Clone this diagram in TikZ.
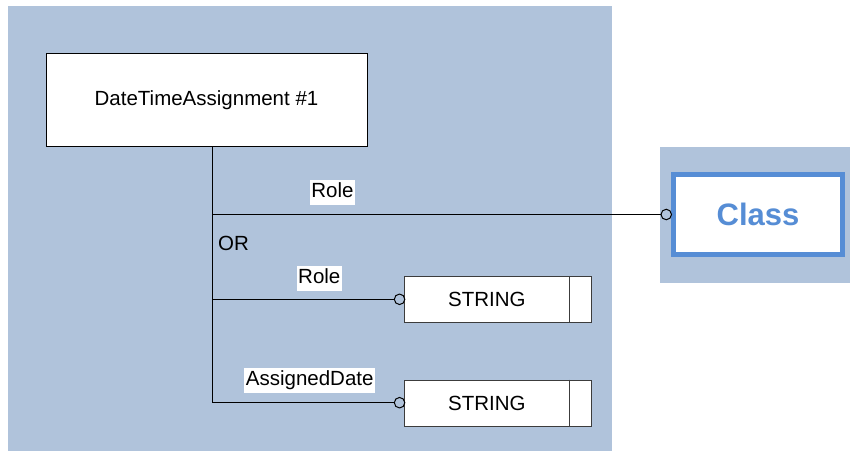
\documentclass[tikz,border=0pt]{standalone}
\usepackage{fontspec}
\setmainfont{Liberation Sans}
\definecolor{panel}{RGB}{176,195,219}
\definecolor{clsblue}{RGB}{86,141,213}
\definecolor{boxline}{RGB}{60,60,60}
\begin{document}
\begin{tikzpicture}[x=1pt,y=-1pt,
  every node/.style={font=\fontsize{20.5}{24}\selectfont},
  entity/.style={draw=black,fill=white,line width=1pt,inner sep=0pt,minimum width=321pt,minimum height=92pt},
  strbox/.style={draw=boxline,fill=white,line width=1pt,inner sep=0pt,minimum width=187pt,minimum height=46pt},
  classbox/.style={draw=clsblue,fill=white,line width=5pt,inner sep=0pt,minimum width=169pt,minimum height=80pt,
    text=clsblue,font=\fontsize{31}{36}\selectfont\bfseries},
  lbl/.style={fill=white,inner xsep=1.5pt,inner ysep=2.5pt,text height=15pt,text depth=5pt},
  conn/.style={draw=black,line width=1pt},
  ring/.style={circle,draw=black,line width=1pt,inner sep=0pt,minimum size=10.5pt,anchor=east}
]
\useasboundingbox (0,0) rectangle (850,452);
\fill[panel] (8,6) rectangle (612,451);
\fill[panel] (660,147) rectangle (850,283);

\node[entity] (dta) at (206.5,100) {DateTimeAssignment \#1};
\node[classbox] (cls) at (758,214.5) {Class};
\node[strbox] (s1) at (498.3,299.7) {};
\node[strbox] (s2) at (498.3,403) {};
\node (t1) at ([xshift=-11.5pt]s1.center) {STRING};
\node (t2) at ([xshift=-11.5pt]s2.center) {STRING};
\draw[boxline,line width=1pt] ([xshift=-23pt]s1.north east) -- ([xshift=-23pt]s1.south east);
\draw[boxline,line width=1pt] ([xshift=-23pt]s2.north east) -- ([xshift=-23pt]s2.south east);

\coordinate (j1) at (212,214.5);
\coordinate (j2) at (212,299.3);
\coordinate (j3) at (212,402.7);

\node[ring] (c0) at ([xshift=1pt]j1 -| cls.west) {};
\node[ring] (c1) at ([xshift=1pt]j2 -| s1.west) {};
\node[ring] (c2) at ([xshift=1pt]j3 -| s2.west) {};

\draw[conn] (dta.south -| j3) -- (j3);
\draw[conn] (j1) -- (c0.west);
\draw[conn] (j2) -- (c1.west);
\draw[conn] (j3) -- (c2.west);

\node[lbl] (l1) at (332.5,192.5) {Role};
\node (or) at (233.5,243) {OR};
\node[lbl] (l2) at (319.3,278.5) {Role};
\node[lbl] (l3) at (309.7,380.8) {AssignedDate};
\end{tikzpicture}
\end{document}
